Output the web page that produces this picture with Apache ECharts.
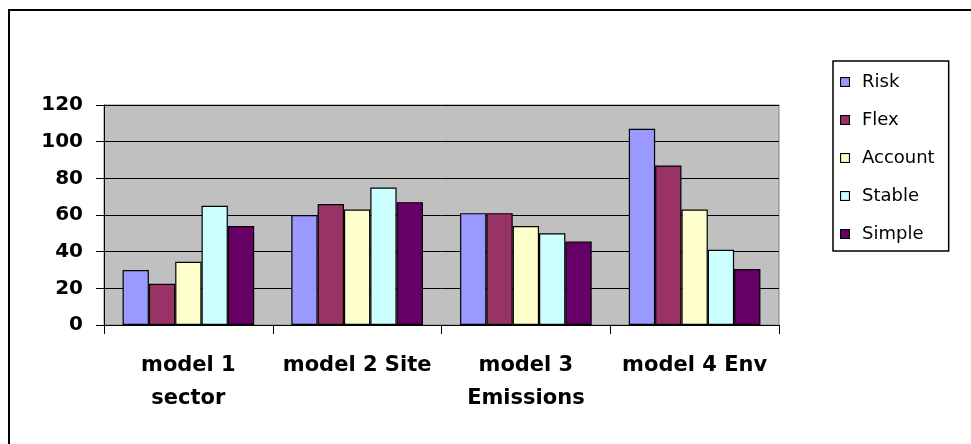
<!DOCTYPE html>
<html>
<head>
<meta charset="utf-8">
<script src="https://cdn.jsdelivr.net/npm/echarts@6/dist/echarts.min.js"></script>
<style>
  html, body { margin: 0; padding: 0; background: #fff; }
  #chart { width: 971px; height: 444px; }
</style>
</head>
<body>
<div id="chart"></div>
<script>
// Category labels (two-line where the label wraps)
const categories = ['model 1\nsector', 'model 2 Site', 'model 3\nEmissions', 'model 4 Env'];

// Series values per model
const risk    = [30, 60, 61, 107];
const flex    = [22.5, 66, 61, 87];
const account = [34.5, 63, 54, 63];
const stable  = [65, 75, 50, 41];
const simple  = [54, 67, 45.5, 30.5];

// Value-axis ticks
const yTicks = [0, 20, 40, 60, 80, 100, 120];

const seriesNames  = ['Risk', 'Flex', 'Account', 'Stable', 'Simple'];
const seriesData   = [risk, flex, account, stable, simple];
const seriesColors = ['#9999FF', '#993366', '#FFFFCC', '#CCFFFF', '#660066'];

// Legend swatch: filled square with a black outline
function swatch(color) {
  const svg = '<svg xmlns="http://www.w3.org/2000/svg" width="10" height="10">' +
    '<rect x="0.5" y="0.5" width="9" height="9" fill="' + color + '" stroke="#000" stroke-width="1.2"/></svg>';
  return 'image://data:image/svg+xml;charset=utf-8,' + encodeURIComponent(svg);
}

const chart = echarts.init(document.getElementById('chart'), null, { renderer: 'canvas' });

const labelFont = { fontFamily: 'DejaVu Sans', fontWeight: 'bold', color: '#000' };

chart.setOption({
  animation: false,
  backgroundColor: '#fff',
  graphic: [{
    type: 'rect',
    shape: { x: 9, y: 10, width: 1000, height: 500 },
    style: { fill: 'none', stroke: '#000', lineWidth: 2 },
    silent: true
  }],
  grid: {
    left: 104, right: 192, top: 105, bottom: 119,
    show: true,
    backgroundColor: '#C0C0C0',
    borderColor: '#808080',
    borderWidth: 1
  },
  legend: {
    orient: 'vertical',
    left: 833, top: 61,
    padding: [12, 14, 8, 7],
    itemWidth: 10, itemHeight: 10, itemGap: 20,
    borderColor: '#000', borderWidth: 1.5,
    backgroundColor: '#fff',
    textStyle: { fontFamily: 'DejaVu Sans', fontSize: 18, lineHeight: 18, color: '#000', padding: [0, 0, 0, 7] },
    data: seriesNames.map((name, i) => ({ name, icon: swatch(seriesColors[i]) }))
  },
  xAxis: {
    type: 'category',
    data: categories,
    axisLine: { lineStyle: { color: '#000', width: 1 } },
    axisTick: { show: true, length: 9, lineStyle: { color: '#000' } },
    axisLabel: Object.assign({ fontSize: 21, lineHeight: 33, margin: 24, interval: 0 }, labelFont)
  },
  yAxis: {
    type: 'value',
    min: yTicks[0], max: yTicks[yTicks.length - 1], interval: yTicks[1] - yTicks[0],
    axisLine: { show: true, lineStyle: { color: '#000', width: 1 } },
    axisTick: { show: true, length: 8, lineStyle: { color: '#000' } },
    axisLabel: Object.assign({ fontSize: 20, margin: 21 }, labelFont),
    splitLine: { show: true, lineStyle: { color: '#000', width: 1 } }
  },
  series: seriesNames.map((name, i) => ({
    name,
    type: 'bar',
    data: seriesData[i],
    barGap: '0%',
    barCategoryGap: '22%',
    itemStyle: { color: seriesColors[i], borderColor: '#000', borderWidth: 1.2 }
  }))
});
</script>
</body>
</html>
